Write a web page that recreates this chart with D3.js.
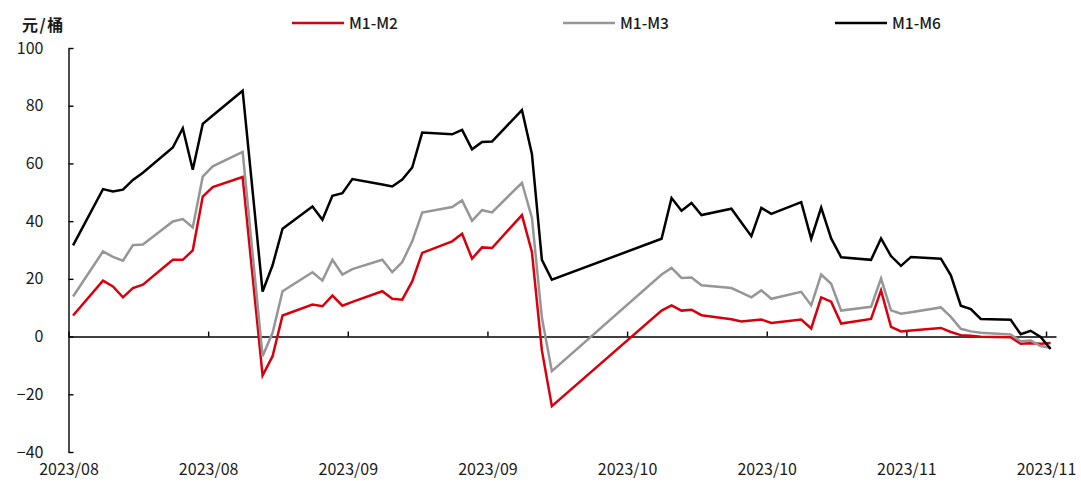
<!DOCTYPE html>
<html>
<head>
<meta charset="utf-8">
<script src="https://cdn.jsdelivr.net/npm/d3@7"></script>
<style>
  body { margin: 0; background: #fff; }
  svg text { font-family: "Noto Sans CJK SC", "Noto Sans", sans-serif; fill: #1a1a1a; }
</style>
</head>
<body>
<div id="chart"></div>
<script>
// trading days (2023)
var dates = [
  "08-11","08-14","08-15","08-16","08-17","08-18","08-21","08-22","08-23","08-24","08-25",
  "08-28","08-29","08-30","08-31","09-01","09-04","09-05","09-06","09-07","09-08",
  "09-11","09-12","09-13","09-14","09-15","09-18","09-19","09-20","09-21","09-22",
  "09-25","09-26","09-27","09-28","10-09","10-10","10-11","10-12","10-13",
  "10-16","10-17","10-18","10-19","10-20","10-23","10-24","10-25","10-26","10-27",
  "10-30","10-31","11-01","11-02","11-03","11-06","11-07","11-08","11-09","11-10",
  "11-13","11-14","11-15","11-16","11-17"
];
var m1m2 = [
  7.3, 19.4, 17.4, 13.6, 16.8, 18.0, 26.6, 26.6, 29.9, 48.5, 51.8,
  55.3, 20.9, -13.5, -6.8, 7.3, 11.1, 10.5, 14.2, 10.7, 12.0,
  15.7, 13.1, 12.8, 19.1, 29.0, 33.0, 35.6, 27.0, 30.9, 30.7,
  42.1, 29.3, -4.8, -24.1, 9.0, 10.8, 9.0, 9.3, 7.4,
  6.0, 5.2, 5.6, 5.9, 4.7, 5.9, 2.8, 13.6, 12.1, 4.5,
  6.1, 16.0, 3.4, 1.8, 2.1, 3.0, 1.6, 0.5, 0.3, -0.1,
  -0.2, -2.5, -2.3, -2.5, -2.2
];
var m1m3 = [
  13.9, 29.5, 27.6, 26.3, 31.7, 31.9, 39.9, 40.7, 37.8, 55.4, 59.0,
  64.0, 28.6, -6.8, 1.3, 15.7, 22.3, 19.4, 26.6, 21.5, 23.4,
  26.6, 22.3, 25.8, 33.0, 43.0, 44.9, 47.2, 40.1, 43.8, 43.0,
  53.3, 41.2, 6.5, -12.0, 21.5, 23.8, 20.3, 20.5, 17.8,
  16.8, 15.2, 13.6, 16.0, 13.1, 15.5, 10.8, 21.5, 18.3, 9.0,
  10.3, 20.1, 9.1, 7.9, 8.4, 10.1, 6.8, 2.7, 1.8, 1.3,
  0.7, -1.6, -1.4, -3.3, -3.9
];
var m1m6 = [
  31.6, 51.1, 50.3, 50.9, 54.3, 56.8, 65.5, 72.2, 57.8, 73.7, 76.6,
  85.2, 50.4, 15.6, 24.7, 37.4, 45.1, 40.5, 48.8, 49.7, 54.6,
  52.7, 52.0, 54.4, 58.6, 70.7, 70.1, 71.6, 64.9, 67.4, 67.6,
  78.5, 63.3, 26.6, 19.7, 33.9, 48.0, 43.6, 46.3, 42.1,
  44.3, 39.5, 34.8, 44.6, 42.5, 46.6, 33.9, 44.7, 34.0, 27.5,
  26.6, 34.0, 27.9, 24.5, 27.6, 27.0, 21.2, 10.7, 9.5, 6.1,
  5.8, 0.8, 2.0, -0.1, -4.3
];
var seriesNames = ["M1-M2", "M1-M3", "M1-M6"];
var seriesColors = ["#d9000d", "#969696", "#000000"];
var yTicks = [-40, -20, 0, 20, 40, 60, 80, 100];

var width = 1081, height = 482;
var parse = d3.timeParse("%Y-%m-%d");
var days = dates.map(function(d) { return d3.timeHour.offset(parse("2023-" + d), 11); });
var start = parse("2023-08-11"), end = parse("2023-11-18");

var svg = d3.select("#chart").append("svg")
  .attr("width", width).attr("height", height);

var x = d3.scaleTime().domain([start, end]).range([68.5, 1056]);
var y = d3.scaleLinear().domain([-40, 100]).range([452, 48]);

// y axis, ticks pointing inside
var yAxis = svg.append("g")
  .attr("transform", "translate(" + x.range()[0] + ",0)")
  .call(d3.axisLeft(y).tickValues(yTicks).tickSizeInner(-5).tickSizeOuter(0).tickPadding(25));
yAxis.selectAll("text").style("font-size", "16px");

// x axis at zero
var xTickVals = d3.range(8).map(function(k) { return d3.timeDay.offset(start, 14 * k); });
svg.append("g")
  .attr("transform", "translate(0," + y(0) + ")")
  .call(d3.axisBottom(x).tickValues(xTickVals).tickSizeInner(-5).tickSizeOuter(0).tickFormat(""));

// date labels at the bottom
var xLabels = svg.append("g")
  .attr("transform", "translate(0,462)")
  .call(d3.axisBottom(x).tickValues(xTickVals).tickSize(0).tickPadding(2).tickFormat(d3.timeFormat("%Y/%m")));
xLabels.select(".domain").remove();
xLabels.selectAll("text").style("font-size", "16px");

svg.selectAll(".domain, .tick line").attr("stroke", "#000").attr("stroke-width", 1.4);

var line = d3.line()
  .x(function(d) { return x(d.date); })
  .y(function(d) { return y(d.v); });

[m1m2, m1m3, m1m6].forEach(function(vals, i) {
  var pts = vals.map(function(v, j) { return {date: days[j], v: v}; });
  svg.append("path")
    .datum(pts)
    .attr("fill", "none")
    .attr("stroke", seriesColors[i])
    .attr("stroke-width", 2.5)
    .attr("stroke-linejoin", "miter")
    .attr("d", line);
});

// unit label
svg.append("text").attr("x", 22).attr("y", 31)
  .style("font-size", "16px").style("font-weight", "bold").style("letter-spacing", "1.5px")
  .text("元/桶");

// legend
var legendX = [292, 563, 835];
seriesNames.forEach(function(name, i) {
  svg.append("line")
    .attr("x1", legendX[i]).attr("x2", legendX[i] + 52)
    .attr("y1", 23).attr("y2", 23)
    .attr("stroke", seriesColors[i]).attr("stroke-width", 2.5);
  svg.append("text")
    .attr("x", legendX[i] + 57).attr("y", 29)
    .style("font-size", "15.5px").style("font-weight", "500")
    .text(name);
});
</script>
</body>
</html>
